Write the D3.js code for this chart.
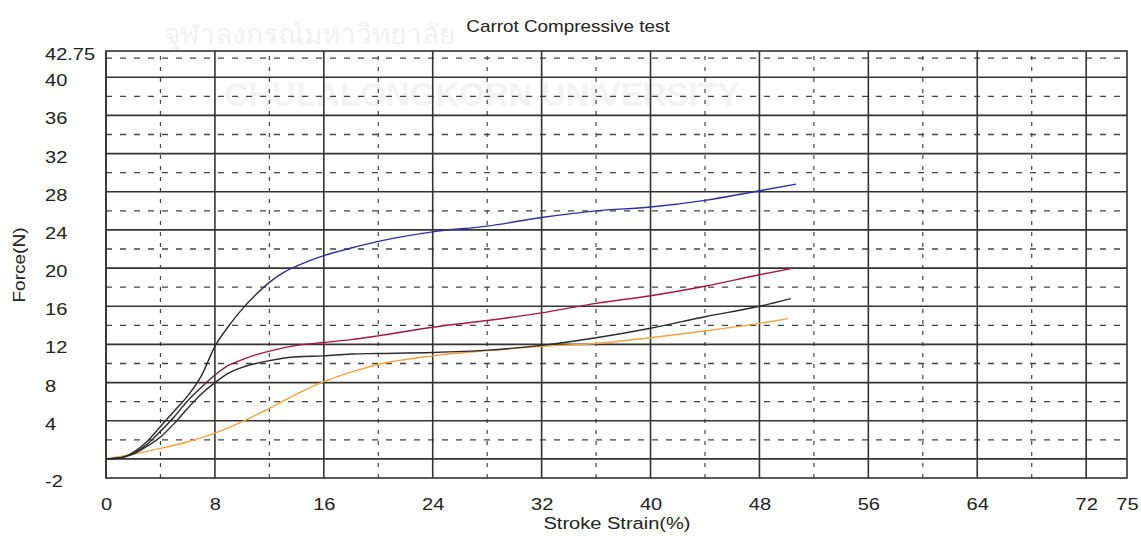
<!DOCTYPE html>
<meta charset="utf-8">
<script src="https://cdn.jsdelivr.net/npm/d3@7"></script>
<style>
  body { margin: 0; background: #fff; }
  text { font-family: "Liberation Sans", Arial, sans-serif; fill: #222; }
</style>
<body>
<div id="chart"></div>
<script>
  // tick labels
  var xTicks = [0, 8, 16, 24, 32, 40, 48, 56, 64, 72, 75];
  var yTicks = [-2, 4, 8, 12, 16, 20, 24, 28, 32, 36, 40, 42.75];

  // curves (strain %, force N)
  var blueX   = [0, 1, 2, 3, 4, 5, 6, 7, 8, 9, 10, 11, 12, 13, 14, 16, 18, 20, 24, 28, 32, 36, 40, 44, 48, 50.7];
  var blueY   = [0, 0.1, 0.7, 1.8, 3.4, 5.0, 6.6, 8.7, 11.8, 13.9, 15.7, 17.2, 18.5, 19.5, 20.2, 21.3, 22.1, 22.8, 23.8, 24.4, 25.3, 26.0, 26.4, 27.1, 28.1, 28.8];
  var redX    = [0, 1, 2, 3, 4, 5, 6, 7, 8, 9, 10, 11, 12, 14, 16, 18, 20, 24, 28, 32, 36, 40, 44, 48, 50.5];
  var redY    = [0, 0.1, 0.6, 1.5, 2.9, 4.4, 6.1, 7.5, 8.8, 9.8, 10.4, 10.9, 11.3, 11.9, 12.2, 12.5, 12.9, 13.8, 14.5, 15.3, 16.3, 17.1, 18.1, 19.3, 20.0];
  var blackX  = [0, 1, 2, 3, 4, 5, 6, 7, 8, 9, 10, 11, 12, 14, 16, 18, 20, 24, 28, 32, 36, 40, 44, 48, 50.3];
  var blackY  = [0, 0.1, 0.5, 1.3, 2.3, 3.7, 5.3, 6.8, 8.0, 9.0, 9.6, 10.0, 10.3, 10.7, 10.8, 11.0, 11.05, 11.15, 11.4, 11.9, 12.7, 13.7, 14.9, 16.0, 16.8];
  var orangeX = [0, 2, 4, 6, 8, 10, 12, 14, 16, 18, 20, 24, 28, 32, 36, 40, 44, 48, 50.1];
  var orangeY = [0, 0.5, 1.1, 1.8, 2.7, 3.9, 5.3, 6.8, 8.1, 9.1, 9.9, 10.8, 11.35, 11.8, 12.1, 12.7, 13.4, 14.2, 14.7];

  var W = 1141, H = 542, sx = 1.18;

  var svg = d3.select("#chart").append("svg")
      .attr("width", W).attr("height", H);

  var x = d3.scaleLinear().domain([0, 75]).range([106, 1127]);
  var y = d3.scaleLinear().domain([-2, 42.75]).range([478, 51]);

  // faint watermark (kept clear of the title)
  svg.append("text").attr("x", 455).attr("y", 44).attr("text-anchor", "end")
    .style("font-size", "28px").style("fill", "#f1f1f1")
    .text("จุฬาลงกรณ์มหาวิทยาลัย");
  svg.append("text").attr("x", 482).attr("y", 106).attr("text-anchor", "middle")
    .style("font-size", "33px").style("font-weight", "bold").style("fill", "#f3f3f3")
    .text("CHULALONGKORN UNIVERSITY");

  // grid
  var g = svg.append("g");
  var solidX = d3.range(0, 73, 8), dashX = d3.range(4, 75, 8);
  var solidY = d3.range(0, 41, 4), dashY = d3.range(2, 43, 4);

  g.selectAll(".hd").data(dashY).enter().append("line")
    .attr("x1", x(0)).attr("x2", x(75))
    .attr("y1", function(d) { return y(d); }).attr("y2", function(d) { return y(d); })
    .style("stroke", "#444").style("stroke-width", 1.3).style("stroke-dasharray", "6,8");
  g.selectAll(".vd").data(dashX).enter().append("line")
    .attr("y1", y(-2)).attr("y2", y(42.75))
    .attr("x1", function(d) { return x(d); }).attr("x2", function(d) { return x(d); })
    .style("stroke", "#444").style("stroke-width", 1.2).style("stroke-dasharray", "4,7");
  g.selectAll(".hs").data(solidY).enter().append("line")
    .attr("x1", x(0)).attr("x2", x(75))
    .attr("y1", function(d) { return y(d); }).attr("y2", function(d) { return y(d); })
    .style("stroke", "#333").style("stroke-width", 1.6);
  g.selectAll(".vs").data(solidX).enter().append("line")
    .attr("y1", y(-2)).attr("y2", y(42.75))
    .attr("x1", function(d) { return x(d); }).attr("x2", function(d) { return x(d); })
    .style("stroke", "#333").style("stroke-width", 1.6);
  g.append("rect")
    .attr("x", x(0)).attr("y", y(42.75))
    .attr("width", x(75) - x(0)).attr("height", y(-2) - y(42.75))
    .style("fill", "none").style("stroke", "#333").style("stroke-width", 1.6);

  // gradients: early parts of the blue and red curves look black
  var defs = svg.append("defs");
  function grad(id, from, to, col) {
    var lg = defs.append("linearGradient").attr("id", id)
      .attr("gradientUnits", "userSpaceOnUse")
      .attr("x1", x(from)).attr("x2", x(to)).attr("y1", 0).attr("y2", 0);
    lg.append("stop").attr("offset", 0).attr("stop-color", "#2a2a2a");
    lg.append("stop").attr("offset", 1).attr("stop-color", col);
  }
  grad("gBlue", 10, 15, "#2e2ea6");
  grad("gRed", 6.5, 10, "#a8163e");

  var line = d3.line()
    .x(function(d) { return x(d[0]); })
    .y(function(d) { return y(d[1]); })
    .curve(d3.curveMonotoneX);

  var series = [
    [orangeX, orangeY, "#f4a23a"],
    [blackX, blackY, "#2a2a2a"],
    [redX, redY, "url(#gRed)"],
    [blueX, blueY, "url(#gBlue)"]
  ];
  series.forEach(function(s) {
    svg.append("path")
      .datum(d3.zip(s[0], s[1]))
      .attr("d", line)
      .style("fill", "none").style("stroke", s[2]).style("stroke-width", 1.4);
  });

  // x axis
  var xa = svg.append("g").attr("transform", "translate(0," + 478 + ")")
    .call(d3.axisBottom(x).tickValues(xTicks).tickSize(0).tickPadding(0)
          .tickFormat(d3.format("d")));
  xa.select(".domain").remove();
  xa.selectAll("text")
    .attr("y", 0).attr("dy", null)
    .attr("transform", "translate(0,32) scale(" + sx + ",1)")
    .style("font-size", "17px").style("font-family", "Liberation Sans, Arial, sans-serif")
    .style("fill", "#222");

  // y labels, left aligned
  svg.append("g").selectAll("text").data(yTicks).enter().append("text")
    .attr("transform", function(d) { return "translate(45," + (y(d) + 9) + ") scale(" + sx + ",1)"; })
    .style("font-size", "17px")
    .text(function(d) { return d; });

  // titles
  svg.append("text")
    .attr("transform", "translate(568,32) scale(" + sx + ",1)")
    .attr("text-anchor", "middle").style("font-size", "16px")
    .text("Carrot Compressive test");
  svg.append("text")
    .attr("transform", "translate(617,529) scale(" + sx + ",1)")
    .attr("text-anchor", "middle").style("font-size", "17px")
    .text("Stroke Strain(%)");
  svg.append("text")
    .attr("transform", "translate(25,265) rotate(-90) scale(1.12,1)")
    .attr("text-anchor", "middle").style("font-size", "17px")
    .text("Force(N)");
</script>
</body>
